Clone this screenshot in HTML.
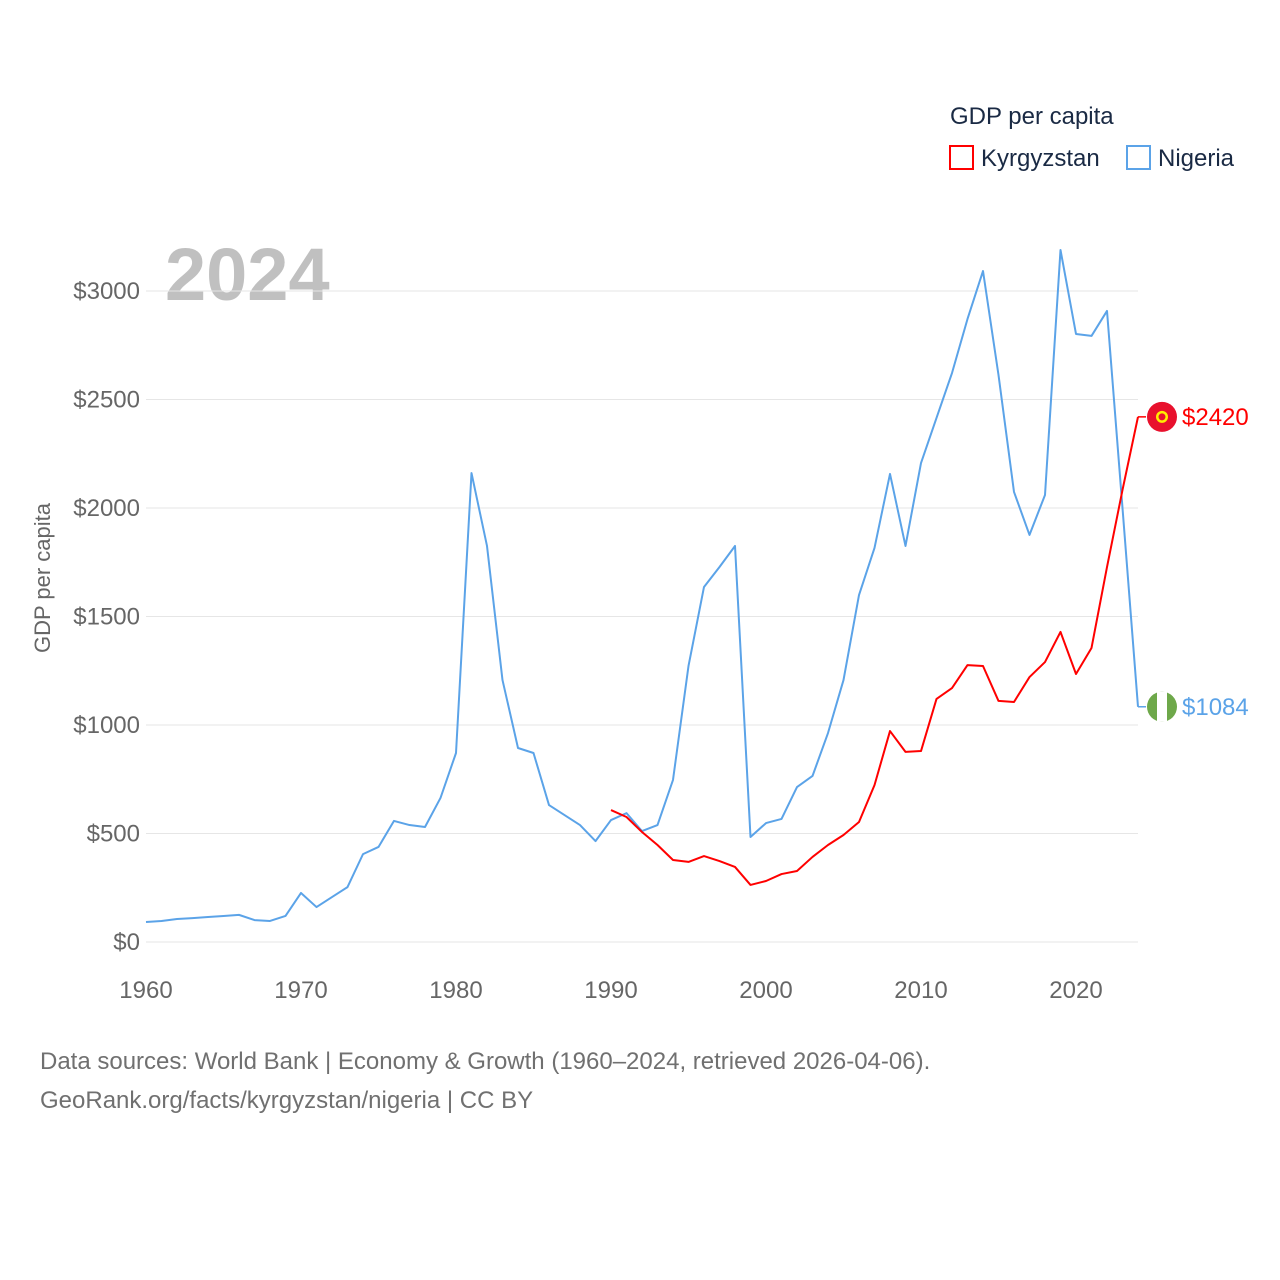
<!DOCTYPE html>
<html><head><meta charset="utf-8"><style>
body{margin:0;background:#fff;}
svg{display:block;font-family:"Liberation Sans",sans-serif;}
</style></head><body>
<svg id="chart" width="1280" height="1280" viewBox="0 0 1280 1280">
<text x="950" y="124" font-size="24" fill="#1a2a44">GDP per capita</text>
<g><rect x="950" y="146" width="23" height="23" fill="none" stroke="#ff0000" stroke-width="2"/><text x="981" y="166" font-size="24" fill="#1a2a44">Kyrgyzstan</text></g>
<g><rect x="1127" y="146" width="23" height="23" fill="none" stroke="#5ba3e8" stroke-width="2"/><text x="1158" y="166" font-size="24" fill="#1a2a44">Nigeria</text></g>
<text x="165" y="300" font-size="74" font-weight="bold" fill="#c0c0c0">2024</text>
<text transform="translate(50,578) rotate(-90)" text-anchor="middle" font-size="22" fill="#666">GDP per capita</text>
<g id="grid"></g><g id="xt"></g><g id="lines"></g><g id="ends"></g>
<text x="40" y="1069" font-size="24" fill="#707070">Data sources: World Bank | Economy &amp; Growth (1960–2024, retrieved 2026-04-06).</text>
<text x="40" y="1108" font-size="24" fill="#707070">GeoRank.org/facts/kyrgyzstan/nigeria | CC BY</text>
</svg>
<script>
const yTicks=[0,500,1000,1500,2000,2500,3000];
const xTicks=[1960,1970,1980,1990,2000,2010,2020];
const nigeriaStart=1960;
const nigeria=[92,97,106,110,115,120,125,101,97,120,226,161,207,253,405,438,558,539,530,664,871,2161,1825,1207,894,871,631,585,539,465,562,594,511,539,747,1272,1636,1728,1825,484,548,567,714,765,963,1207,1599,1816,2157,1825,2207,2415,2622,2871,3092,2613,2074,1876,2060,3189,2802,2793,2908,2000,1084];
const kyrStart=1990;
const kyrgyzstan=[608,576,507,447,378,369,396,373,346,263,281,313,327,392,447,493,553,723,972,876,880,1120,1170,1276,1272,1111,1106,1221,1290,1429,1235,1355,1728,2083,2420];
const NS="http://www.w3.org/2000/svg";
const X=y=>146+(y-1960)*15.5;
const Y=v=>942-v*0.217;
function mk(t,a,p){const e=document.createElementNS(NS,t);for(const k in a)e.setAttribute(k,a[k]);p.appendChild(e);return e;}
const g=document.getElementById('grid');
yTicks.forEach(v=>{
 const l=mk('line',{x1:146,x2:1138,y1:Y(v),y2:Y(v),stroke:'#e6e6e6','stroke-width':1},g);
 
 
 const t=mk('text',{x:140,y:Y(v)+8,'text-anchor':'end','font-size':24,fill:'#666'},g);
 t.textContent='$'+v;
 
 
});
const xt=document.getElementById('xt');
xTicks.forEach(v=>{
 const t=mk('text',{x:X(v),y:998,'text-anchor':'middle','font-size':24,fill:'#666'},xt);
 t.textContent=v;
 
 
});
const ln=document.getElementById('lines');
function series(arr,start,color,name){
 const pts=arr.map((v,i)=>X(start+i)+','+Y(v)).join(' ');
 const p=mk('polyline',{points:pts,fill:'none',stroke:color,'stroke-width':2,'stroke-linejoin':'round'},ln);
 
 
 const last=arr[arr.length-1],lx=X(start+arr.length-1),ly=Y(last);
 const e=document.getElementById('ends');
 mk('line',{x1:lx,x2:lx+8,y1:ly,y2:ly,stroke:color,'stroke-width':1.5},e);
 return [last,lx,ly];
}
const n=series(nigeria,nigeriaStart,'#5ba3e8','nigeria');
const k=series(kyrgyzstan,kyrStart,'#ff0000','kyrgyzstan');
const e=document.getElementById('ends');
const kf=mk('g',{},e);


mk('circle',{cx:1162,cy:k[2],r:15,fill:'#e8112d'},kf);
mk('circle',{cx:1162,cy:k[2],r:6,fill:'#ffef00'},kf);
mk('circle',{cx:1162,cy:k[2],r:3.5,fill:'#e8112d'},kf);
const nf=mk('g',{},e);


mk('circle',{cx:1162,cy:n[2],r:15,fill:'#6ea84a'},nf);
mk('rect',{x:1157,y:n[2]-15,width:10,height:30,fill:'#fff'},nf);
const kl=mk('text',{x:1182,y:k[2]+8,'font-size':24,fill:'#ff0000'},e);
kl.textContent='$'+k[0];


const nl=mk('text',{x:1182,y:n[2]+8,'font-size':24,fill:'#5ba3e8'},e);
nl.textContent='$'+n[0];


</script>
</body></html>
